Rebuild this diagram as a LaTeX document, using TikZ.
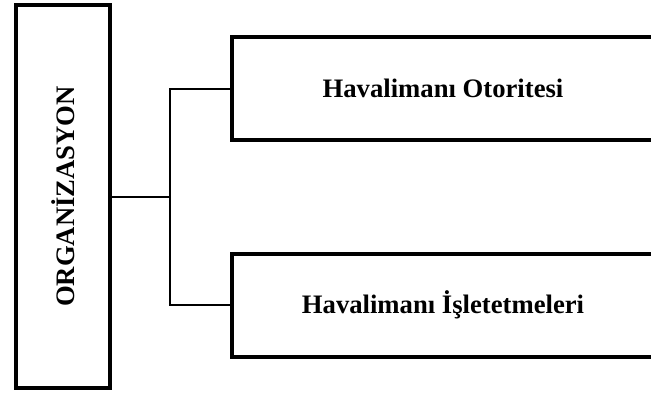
\documentclass[tikz,border=0pt]{standalone}
\usepackage{fontspec}
\setmainfont{Liberation Serif}

\tikzset{
  unitbox/.style={draw, line width=3pt, inner sep=0pt,
    font=\fontsize{20}{24}\selectfont\bfseries},
  link/.style={line width=1.5pt}
}

\begin{document}
\begin{tikzpicture}[x=0.75pt,y=-0.75pt]
\useasboundingbox (0,0) rectangle (651,394);

% main block on the left
\node[unitbox, minimum width=70.5pt, minimum height=287.25pt] (org) at (63,196.5)
  {\rotatebox{90}{ORGANİZASYON}};

% the two units
\foreach \n/\y/\t in {oto/88.5/Havalimanı Otoritesi, isl/305/Havalimanı İşletetmeleri}
  \node[unitbox, minimum width=316.5pt, minimum height=77.25pt] (\n) at (443,\y) {\t};

% bracket
\coordinate (split) at (170,196.5);
\draw[link] (org.east) -- (split);
\draw[link] (oto.west) -| (split) |- (isl.west);
\end{tikzpicture}
\end{document}
